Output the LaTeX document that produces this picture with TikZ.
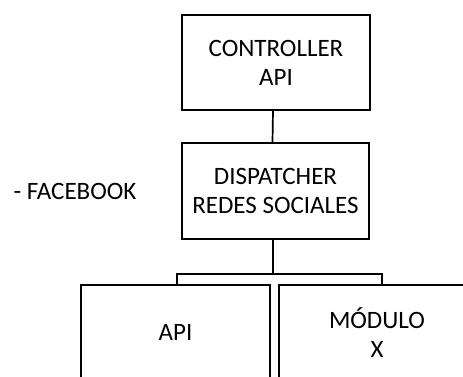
\documentclass[tikz,border=0pt]{standalone}
\usepackage{fontspec}
\setmainfont{Carlito}

\begin{document}
\begin{tikzpicture}[x=1pt,y=-1pt]
        \tikzset{modbox/.style={draw,line width=1.7pt,align=center,inner sep=0pt,
                font=\fontsize{25}{29}\selectfont},
            link/.style={draw,line width=1.7pt}}
        \useasboundingbox (0,0) rectangle (463,376);
        \clip (0,0) rectangle (463,376);
        % upper levels
        \node[modbox,minimum width=188pt,minimum height=95pt] (ctrl) at (276,62.5) {CONTROLLER\\API};
        \node[modbox,minimum width=187pt,minimum height=96pt] (disp) at (275.5,191) {DISPATCHER\\REDES SOCIALES};
        \node[font=\fontsize{25}{29}\selectfont,anchor=west] (fb) at (10,191) {- FACEBOOK};
        % lower level
        \node[modbox,minimum width=189pt,minimum height=95pt] (api) at (175.5,332.5) {API};
        \node[modbox,minimum width=196pt,minimum height=95pt] (modx) at (377,332.5) {MÓDULO\\X};
        \draw[link] ([xshift=-3pt]ctrl.south) -- ([xshift=-3pt]disp.north);
        \draw[link] ([xshift=-2.5pt]disp.south) -- ++(0,34) coordinate (split);
        \draw[link] ([xshift=1.5pt]api.north) |- (split) -| ([xshift=5pt]modx.north);
    \end{tikzpicture}
\end{document}
